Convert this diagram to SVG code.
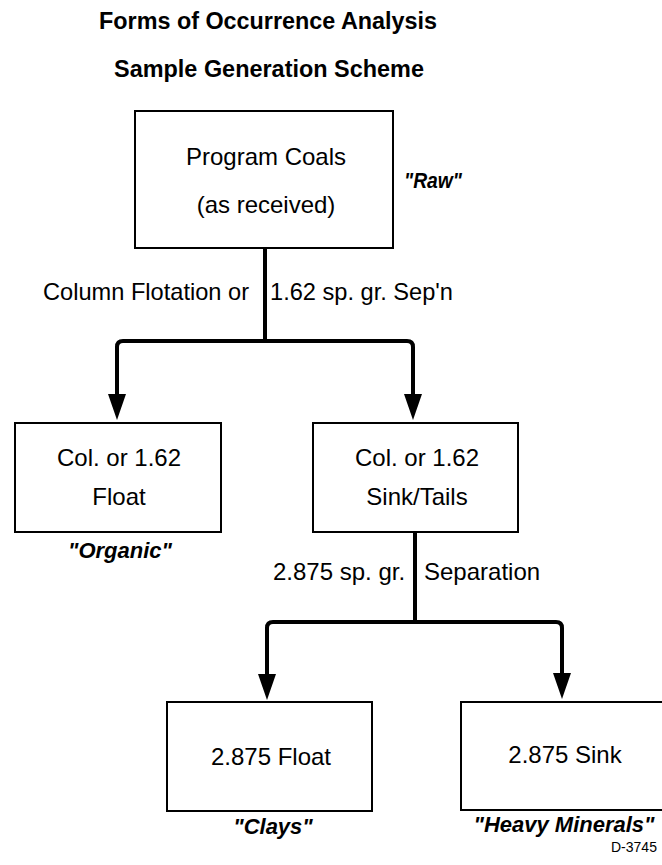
<svg xmlns="http://www.w3.org/2000/svg" width="662" height="865" viewBox="0 0 662 865">
<style>
text{font-family:"Liberation Sans",Arial,Helvetica,sans-serif;fill:#000}
.t{font-size:23px;font-weight:bold;text-anchor:middle}
.n{font-size:24px;text-anchor:middle}
.l{font-size:24px}
.q{font-size:22px;font-weight:bold;font-style:italic;text-anchor:middle}
.box{fill:#fff;stroke:#000;stroke-width:2}
.c{fill:none;stroke:#000;stroke-width:4}
</style>
<defs>
<marker id="ah" markerUnits="userSpaceOnUse" viewBox="0 0 26 18" markerWidth="26" markerHeight="18" refX="18" refY="9" orient="auto">
<path d="M0,0 L26,9 L0,18 Z" fill="#000"/>
</marker>
</defs>
<rect width="662" height="865" fill="#fff"/>
<g id="title">
<text class="t" x="268" y="29" textLength="338" lengthAdjust="spacingAndGlyphs">Forms of Occurrence Analysis</text>
<text class="t" x="269" y="77" textLength="310" lengthAdjust="spacingAndGlyphs">Sample Generation Scheme</text>
</g>
<g id="connectors">
<path class="c" d="M265,248 V341"/>
<path class="c" d="M265,341 H123 Q117,341 117,347 V412" marker-end="url(#ah)"/>
<path class="c" d="M265,341 H407 Q413,341 413,347 V412" marker-end="url(#ah)"/>
<path class="c" d="M415,532 V622"/>
<path class="c" d="M415,622 H273 Q267,622 267,628 V692" marker-end="url(#ah)"/>
<path class="c" d="M415,622 H556 Q562,622 562,628 V691" marker-end="url(#ah)"/>
<text class="l" x="43" y="300" textLength="206" lengthAdjust="spacingAndGlyphs">Column Flotation or</text>
<text class="l" x="270" y="300" textLength="183" lengthAdjust="spacingAndGlyphs">1.62 sp. gr. Sep'n</text>
<text class="l" x="273" y="580">2.875 sp. gr.</text>
<text class="l" x="424" y="580">Separation</text>
</g>
<g id="node-raw">
<rect class="box" x="135" y="111" width="258" height="137"/>
<text class="n" x="266" y="165">Program Coals</text>
<text class="n" x="266" y="213">(as received)</text>
<text class="q" x="433" y="188" textLength="58" lengthAdjust="spacingAndGlyphs">"Raw"</text>
</g>
<g id="node-float">
<rect class="box" x="15" y="423" width="206" height="109"/>
<text class="n" x="119" y="466">Col. or 1.62</text>
<text class="n" x="119" y="505">Float</text>
<text class="q" x="120" y="558">"Organic"</text>
</g>
<g id="node-sink">
<rect class="box" x="313" y="423" width="205" height="109"/>
<text class="n" x="417" y="466">Col. or 1.62</text>
<text class="n" x="417" y="505">Sink/Tails</text>
</g>
<g id="node-clays">
<rect class="box" x="167" y="702" width="205" height="109"/>
<text class="n" x="271" y="765">2.875 Float</text>
<text class="q" x="273" y="834">"Clays"</text>
</g>
<g id="node-heavy">
<rect class="box" x="461" y="702" width="230" height="108"/>
<text class="n" x="565" y="763">2.875 Sink</text>
<text class="q" x="564" y="832">"Heavy Minerals"</text>
</g>
<text x="611" y="852" style="font-size:14px">D-3745</text>
</svg>
